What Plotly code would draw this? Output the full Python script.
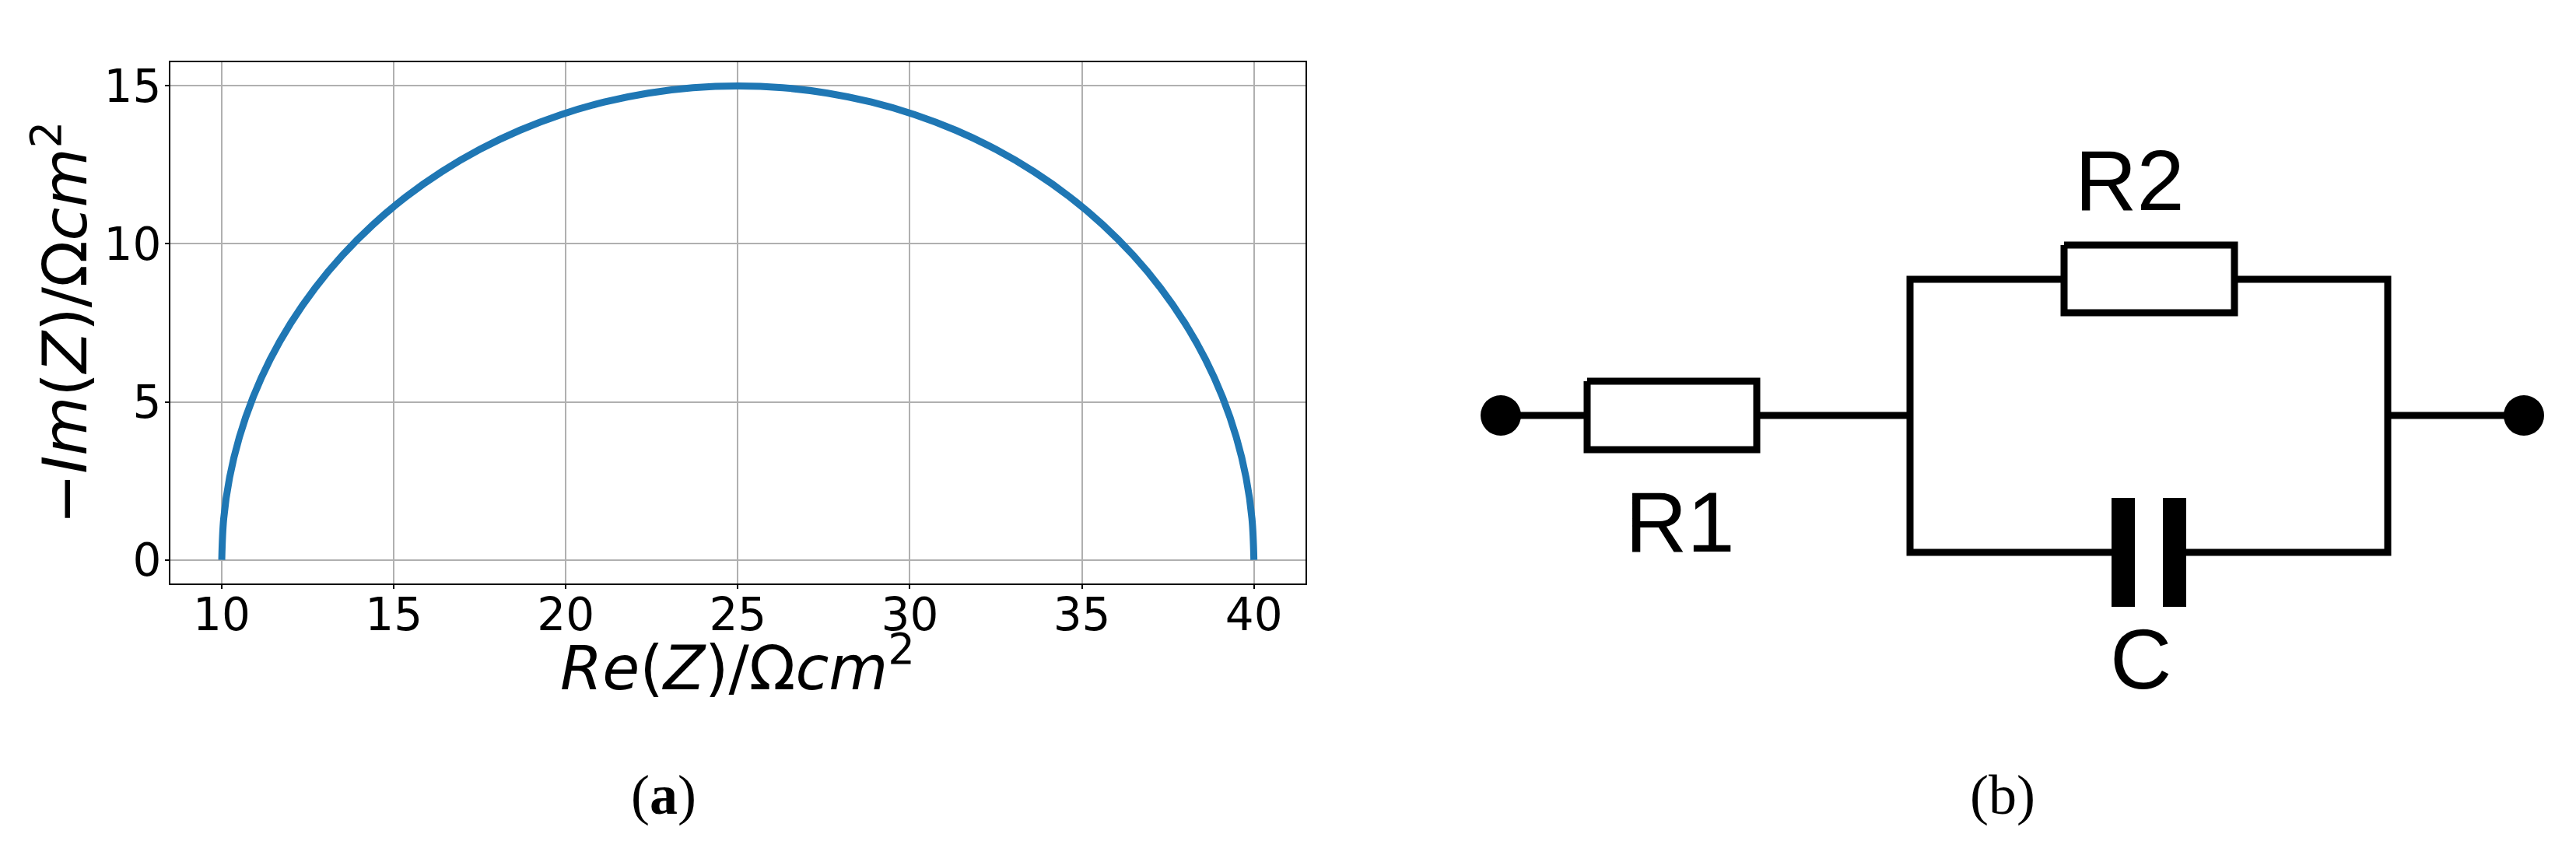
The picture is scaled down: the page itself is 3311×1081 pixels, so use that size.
import plotly.graph_objects as go

# Panel (a): Nyquist plot values
re_z = [10, 10.057, 10.228, 10.511, 10.905, 11.405, 12.010, 12.713, 13.509, 14.393, 15.358, 16.396,
        17.5, 18.661, 19.870, 21.118, 22.395, 23.693, 25, 26.307, 27.605, 28.882, 30.130, 31.339,
        32.5, 33.604, 34.642, 35.607, 36.491, 37.287, 37.990, 38.595, 39.095, 39.489, 39.772, 39.943, 40]
minus_im_z = [0, 1.307, 2.605, 3.882, 5.130, 6.339, 7.5, 8.604, 9.642, 10.607, 11.491, 12.287,
              12.990, 13.595, 14.095, 14.489, 14.772, 14.943, 15, 14.943, 14.772, 14.489, 14.095, 13.595,
              12.990, 12.287, 11.491, 10.607, 9.642, 8.604, 7.5, 6.339, 5.130, 3.882, 2.605, 1.307, 0]
x_ticks = [10, 15, 20, 25, 30, 35, 40]
y_ticks = [0, 5, 10, 15]
x_title = "<i>Re</i>(<i>Z</i>)/Ω<i>cm</i><sup>2</sup>"
y_title = "−<i>Im</i>(<i>Z</i>)/Ω<i>cm</i><sup>2</sup>"

# Panel (b): circuit schematic, in figure pixels
wires = [
    ([1929, 2040], [534, 534]),
    ([2258, 2455], [534, 534]),
    ([3069, 3244], [534, 534]),
    ([2653, 2455, 2455, 2714], [359, 359, 710, 710]),
    ([2872, 3069, 3069, 2810], [359, 359, 710, 710]),
]
resistor_x = [[2040, 2258, 2258, 2040, 2040], [2653, 2872, 2872, 2653, 2653]]
resistor_y = [[490, 490, 578, 578, 490], [315, 315, 402, 402, 315]]
plates = [([2729, 2729], [640, 780]), ([2795, 2795], [640, 780])]
terminals_x = [1929, 3244]
terminals_y = [534, 534]
labels = [("R1", 2159, 670), ("R2", 2737, 231), ("C", 2751, 846)]
captions = [("(<b>a</b>)", 853, 1022), ("(b)", 2574, 1022)]

W, H = 3311, 1081
X0, X1 = 1800, W      # pixel window of the schematic axes
fig = go.Figure()
fig.add_trace(go.Scatter(x=re_z, y=minus_im_z, mode="lines",
                         line=dict(color="#1f77b4", width=9, shape="spline", smoothing=1), showlegend=False))

for wx, wy in wires:
    fig.add_trace(go.Scatter(x=wx, y=wy, xaxis="x2", yaxis="y2", mode="lines",
                             line=dict(color="black", width=9), showlegend=False))
for rx, ry in zip(resistor_x, resistor_y):
    fig.add_trace(go.Scatter(x=rx, y=ry, xaxis="x2", yaxis="y2", mode="lines", fill="toself", fillcolor="white",
                             line=dict(color="black", width=9), showlegend=False))
for px, py in plates:
    fig.add_trace(go.Scatter(x=px, y=py, xaxis="x2", yaxis="y2", mode="lines",
                             line=dict(color="black", width=30), showlegend=False))
fig.add_trace(go.Scatter(x=terminals_x, y=terminals_y, xaxis="x2", yaxis="y2", mode="markers",
                         marker=dict(color="black", size=52), showlegend=False))

ann = []
for t, x, y in labels:
    ann.append(dict(text=t, x=x / W, y=1 - y / H, xref="paper", yref="paper", showarrow=False, xanchor="center", yanchor="middle",
                    font=dict(family="Liberation Sans", size=110, color="black")))
for t, x, y in captions:
    ann.append(dict(text=t, x=x / W, y=1 - y / H, xref="paper", yref="paper", showarrow=False, xanchor="center", yanchor="middle",
                    font=dict(family="Liberation Serif", size=72, color="black")))
title_font = dict(family="DejaVu Sans", size=78, color="black")
ann.append(dict(text=x_title, x=948 / W, y=1 - 853 / H, xref="paper", yref="paper", showarrow=False,
                xanchor="center", yanchor="middle", font=title_font))
ann.append(dict(text=y_title, x=78 / W, y=1 - 415 / H, xref="paper", yref="paper", showarrow=False,
                xanchor="center", yanchor="middle", textangle=-90, font=title_font))

common = dict(showline=True, linecolor="black", linewidth=1.5, mirror=True, ticks="outside", ticklen=5,
              tickwidth=1.5, tickcolor="black", showgrid=True, gridcolor="#b0b0b0", gridwidth=1.5, zeroline=False,
              tickfont=dict(family="DejaVu Sans", size=58, color="black"))
fig.update_layout(
    width=W, height=H, margin=dict(l=0, r=0, t=0, b=0, autoexpand=False), paper_bgcolor="white", plot_bgcolor="white",
    annotations=ann,
    xaxis=dict(domain=[218.7 / W, 1678 / W], range=[8.5, 41.5], tickvals=x_ticks, ticklabelstandoff=-16, **common),
    yaxis=dict(domain=[1 - 750 / H, 1 - 80 / H], range=[-0.75, 15.75], tickvals=y_ticks, ticklabelstandoff=-7, **common),
    xaxis2=dict(domain=[X0 / W, X1 / W], range=[X0, X1], visible=False, anchor="y2"),
    yaxis2=dict(domain=[0, 1], range=[H, 0], visible=False, anchor="x2"),
)
fig.write_html("out.html", config={"displayModeBar": False},
               post_script="document.body.style.margin='0';document.documentElement.style.overflow='hidden';")
